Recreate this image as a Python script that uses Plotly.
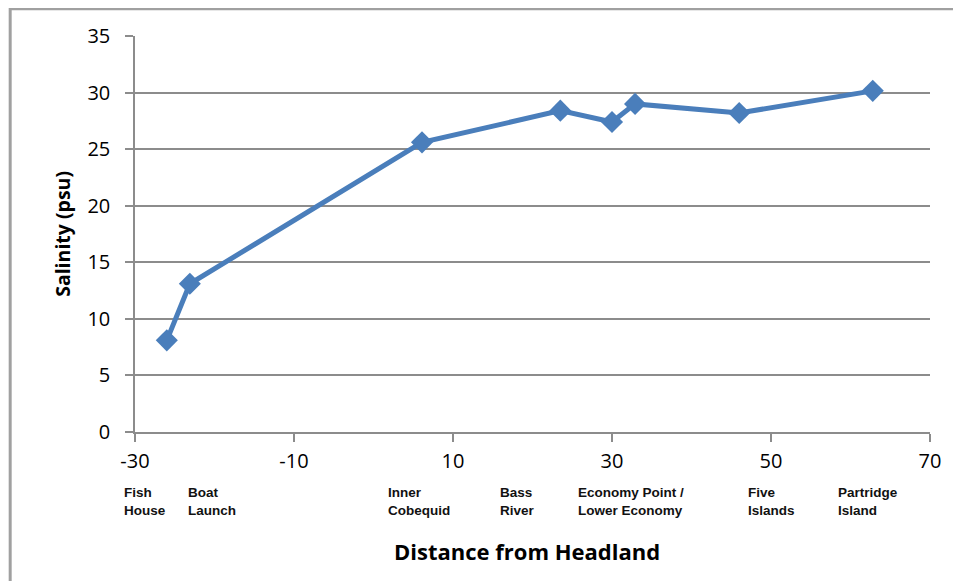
import plotly.graph_objects as go

# Data
distance = [-26, -23.1, 6.1, 23.5, 30.0, 32.9, 46.0, 62.8]
salinity = [8.1, 13.1, 25.6, 28.4, 27.4, 29.0, 28.2, 30.15]

site_labels = ["Fish<br>House", "Boat<br>Launch", "Inner<br>Cobequid", "Bass<br>River",
               "Economy Point /<br>Lower Economy", "Five<br>Islands", "Partridge<br>Island"]
site_label_x = [-31.6, -23.6, 1.6, 15.7, 25.5, 46.9, 58.2]

x_ticks = [-30, -10, 10, 30, 50, 70]
x_ticktext = ["-30", "-10", "10", "30", "50", "70"]
y_ticks = [0, 5, 10, 15, 20, 25, 30, 35]

x_range = [-30, 70]
blue = "#4A7EBB"
grid = "#8C8C8C"

fig = go.Figure()
fig.add_trace(go.Scatter(
    x=distance, y=salinity, mode="lines+markers",
    line=dict(color=blue, width=5),
    marker=dict(symbol="diamond", size=17, color=blue),
    showlegend=False, cliponaxis=False,
))

annotations = []
for lbl, lx in zip(site_labels, site_label_x):
    annotations.append(dict(
        x=(lx - x_range[0]) / (x_range[1] - x_range[0]), y=-0.13,
        xref="paper", yref="paper", text=lbl, showarrow=False,
        xanchor="left", yanchor="top", align="left",
        font=dict(family="Liberation Sans", size=13.5, color="#111111", weight="bold"),
    ))
annotations.append(dict(
    x=0.493, y=-0.30, xref="paper", yref="paper", text="Distance from Headland",
    showarrow=False, xanchor="center", yanchor="middle",
    font=dict(family="Open Sans", size=22, color="#000000", weight="bold"),
))
annotations.append(dict(
    x=-0.092, y=0.5, xref="paper", yref="paper", text="Salinity (psu)",
    showarrow=False, xanchor="center", yanchor="middle", textangle=-90,
    font=dict(family="Open Sans", size=19.5, color="#000000", weight="bold"),
))

fig.update_layout(
    width=961, height=581,
    margin=dict(l=127, r=39, t=28, b=157),
    paper_bgcolor="white", plot_bgcolor="white",
    annotations=annotations,
    shapes=[dict(type="rect", xref="paper", yref="paper",
                 x0=-0.157, x1=1.2, y0=-0.6, y1=1.069,
                 line=dict(color="#A0A0A0", width=3), layer="below")],
    xaxis=dict(range=x_range, tickvals=x_ticks, ticktext=x_ticktext,
               showgrid=False, zeroline=False,
               showline=True, linecolor=grid, linewidth=1.5,
               ticks="outside", ticklen=8, tickcolor=grid, tickwidth=1.5,
               ticklabelstandoff=2,
               tickfont=dict(family="Open Sans", size=20, color="#000000")),
    yaxis=dict(range=[0, 35], tickvals=y_ticks, showgrid=True, gridcolor=grid,
               gridwidth=1.5, zeroline=False,
               showline=True, linecolor=grid, linewidth=1.5,
               ticks="outside", ticklen=8, tickcolor=grid, tickwidth=1.5,
               ticklabelstandoff=11,
               tickfont=dict(family="Open Sans", size=20, color="#000000")),
)

fig.write_html("out.html")
